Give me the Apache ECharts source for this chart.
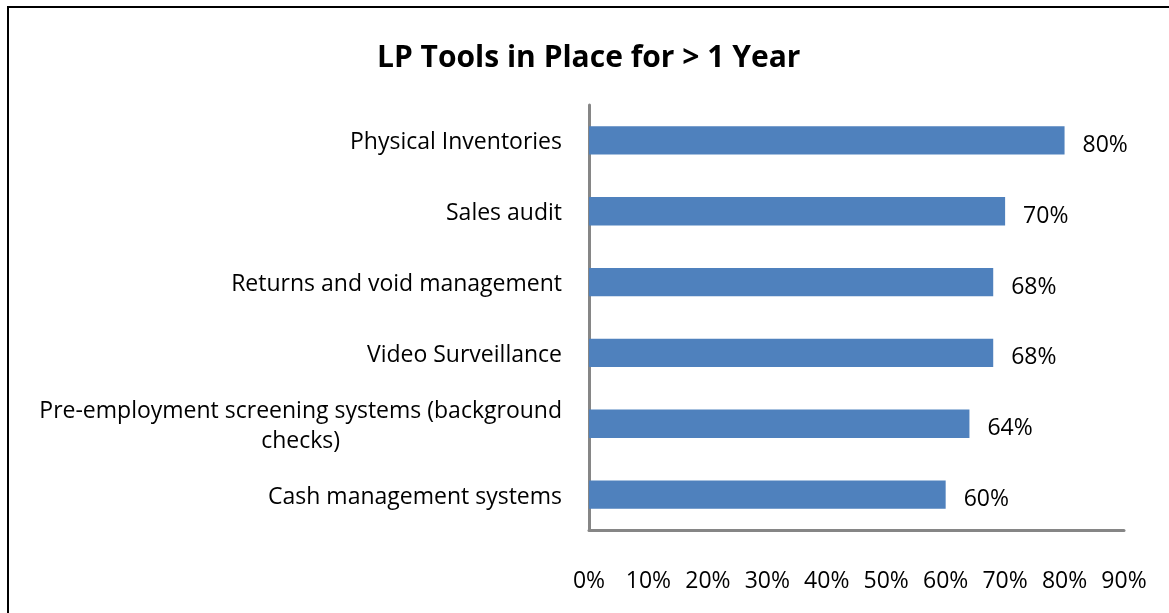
<!DOCTYPE html>
<html><head><meta charset="utf-8">
<script src="https://cdn.jsdelivr.net/npm/echarts@6/dist/echarts.min.js"></script>
<style>html,body{margin:0;padding:0;background:#fff}#c{width:1169px;height:613px}
#frame{position:absolute;left:7px;top:6px;width:1162px;height:607px;border:2px solid #000;box-sizing:border-box;border-bottom:none;border-right:none;pointer-events:none}</style>
</head><body><div id="c"></div><div id="frame"></div>
<script>
const categories = ["Cash management systems","Pre-employment screening systems (background checks)","Video Surveillance","Returns and void management","Sales audit","Physical Inventories"];
const values = [60, 64, 68, 68, 70, 80];
const tickLabels = ["0%","10%","20%","30%","40%","50%","60%","70%","80%","90%"];
const font = "Open Sans";
const fs = 23;
const chart = echarts.init(document.getElementById('c'), null, {renderer:'canvas'});
chart.setOption({
  animation:false,
  title:{text:"LP Tools in Place for > 1 Year", left:372, top:38,
    textStyle:{fontFamily:font, fontWeight:'bold', fontSize:30, color:'#000'}},
  grid:{left:589, top:105, right:45, bottom:83},
  xAxis:{type:'value', min:0, max:90, interval:10,
    axisLine:{show:true, lineStyle:{color:'#868686', width:3}},
    axisTick:{show:false}, splitLine:{show:false},
    axisLabel:{margin:40, fontFamily:font, fontSize:fs, color:'#000',
      formatter:(v)=>tickLabels[Math.round(v/10)]}},
  yAxis:{type:'category', data:categories,
    axisLine:{show:true, lineStyle:{color:'#868686', width:3}},
    axisTick:{show:false},
    axisLabel:{margin:27, fontFamily:font, fontSize:fs, color:'#000', lineHeight:30, padding:[5,0,0,0],
      formatter:(v)=> v.indexOf('(background')>=0 ? '{a|Pre-employment screening systems (background}\n{b|checks)}' : v,
      rich:{a:{fontFamily:font, fontSize:fs, color:'#000', lineHeight:30},
            b:{fontFamily:font, fontSize:fs, color:'#000', lineHeight:30, align:'center'}}}},
  series:[{type:'bar', data:values, barWidth:'40%',
    itemStyle:{color:'#4F81BD'},
    label:{show:true, position:'right', distance:18, fontFamily:font, fontSize:fs, color:'#000',
      offset:[0,5], formatter:(p)=>p.value+'%'}}]
});
</script></body></html>
